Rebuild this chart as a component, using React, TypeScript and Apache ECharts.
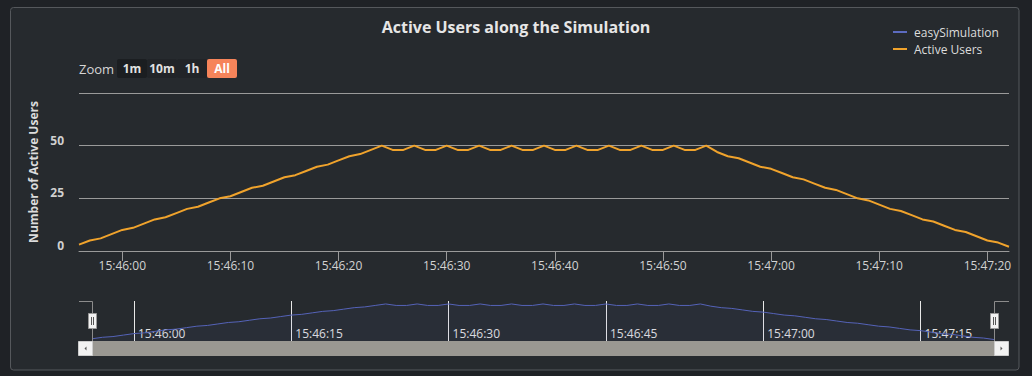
import React, { useEffect, useRef } from "react";
import * as echarts from "echarts";

const FONT = "'Open Sans', 'DejaVu Sans', sans-serif";

// time span: 15:45:56 .. 15:47:22, one point per second
const START_SECONDS = 15 * 3600 + 45 * 60 + 56;
const POINT_COUNT = 87;
const pad = (n: number) => String(n).padStart(2, "0");
const toClock = (s: number) =>
  `${pad(Math.floor(s / 3600))}:${pad(Math.floor((s % 3600) / 60))}:${pad(s % 60)}`;
const categories: string[] = Array.from({ length: POINT_COUNT }, (_, i) => toClock(START_SECONDS + i));

// Active users
const rampUp = [3, 5, 6, 8, 10, 11, 13, 15, 16, 18, 20, 21, 23, 25, 26, 28, 30, 31, 33, 35, 36, 38, 40, 41, 43, 45, 46, 48, 50];
const plateau = [48, 48, 50, 48, 48, 50, 48, 48, 50, 48, 48, 50, 48, 48, 50, 48, 48, 50, 48, 48, 50, 48, 48, 50, 48, 48, 50, 48, 48, 50];
const rampDown = [47, 45, 44, 42, 40, 39, 37, 35, 34, 32, 30, 29, 27, 25, 24, 22, 20, 19, 17, 15, 14, 12, 10, 9, 7, 5, 4, 2];
const activeUsers = [...rampUp, ...plateau, ...rampDown];

const yTicks = [0, 25, 50, 75];
const zoomButtons = ["1m", "10m", "1h", "All"];

const secOf = (v: string) => Number(v.slice(-2));

export default function App() {
  const ref = useRef<HTMLDivElement>(null);
  useEffect(() => {
    if (!ref.current) return;
    const chart = echarts.init(ref.current, undefined, { renderer: "svg" });

    const buttonGraphics: any[] = [];
    zoomButtons.forEach((label, i) => {
      const x = 117 + i * 30;
      const active = label === "All";
      const bg = active ? "#f6845a" : i === 0 ? "#1b1e21" : "#212428";
      buttonGraphics.push({
        type: "rect",
        shape: { x, y: 59, width: 30, height: 19, r: 2 },
        style: { fill: bg },
        z: 5,
      });
      buttonGraphics.push({
        type: "text",
        x: x + 15,
        y: 68.5,
        style: {
          text: label,
          fill: active ? "#ffffff" : "#e2e2e2",
          font: `bold 12px ${FONT}`,
          textAlign: "center",
          textVerticalAlign: "middle",
        },
        z: 6,
      });
    });

    const handle = (x: number) => [
      {
        type: "rect",
        shape: { x: x + 0.5, y: 313.5, width: 8, height: 15 },
        style: { fill: "#f2f2f2", stroke: "#9a9a9a", lineWidth: 1 },
        z: 10,
      },
      {
        type: "line",
        shape: { x1: x + 3.5, y1: 317, x2: x + 3.5, y2: 325 },
        style: { stroke: "#555", lineWidth: 1 },
        z: 11,
      },
      {
        type: "line",
        shape: { x1: x + 5.5, y1: 317, x2: x + 5.5, y2: 325 },
        style: { stroke: "#555", lineWidth: 1 },
        z: 11,
      },
    ];

    const option: any = {
      animation: false,
      backgroundColor: "#1f2226",
      title: {
        text: "Active Users along the Simulation",
        left: "center",
        top: 14,
        textStyle: { color: "#e6e6e6", fontSize: 16, fontWeight: "bold", fontFamily: FONT },
      },
      legend: {
        orient: "vertical",
        left: 893,
        top: 25,
        padding: 0,
        icon: "rect",
        itemWidth: 14,
        itemHeight: 2,
        itemGap: 3,
        textStyle: { color: "#dcdcdc", fontSize: 12, fontFamily: FONT, lineHeight: 14, padding: [0, 0, 0, 2] },
        data: ["easySimulation", "Active Users"],
      },
      grid: [
        { left: 79, right: 23, top: 93, height: 158 },
        { left: 92, right: 38, top: 301, height: 40 },
      ],
      xAxis: [
        {
          type: "category",
          gridIndex: 0,
          data: categories,
          boundaryGap: false,
          axisLine: { lineStyle: { color: "#9a9a9a", width: 1 } },
          axisTick: {
            length: 10,
            interval: (_i: number, v: string) => secOf(v) % 10 === 0,
            lineStyle: { color: "#9a9a9a" },
          },
          axisLabel: {
            interval: (_i: number, v: string) => secOf(v) % 10 === 0,
            color: "#d2d2d2",
            fontSize: 12,
            fontFamily: FONT,
            margin: 8,
          },
          splitLine: { show: false },
        },
        {
          type: "category",
          gridIndex: 1,
          data: categories,
          boundaryGap: false,
          axisLine: { show: false },
          axisTick: { show: false },
          axisLabel: {
            inside: true,
            interval: (_i: number, v: string) => secOf(v) % 15 === 0,
            align: "left",
            padding: [0, 0, 0, 4],
            margin: 2,
            color: "#e2e2e2",
            fontSize: 12,
            fontFamily: FONT,
          },
          splitLine: {
            show: true,
            interval: (_i: number, v: string) => secOf(v) % 15 === 0,
            lineStyle: { color: "#e8e8e8", width: 1 },
          },
        },
      ],
      yAxis: [
        {
          type: "value",
          gridIndex: 0,
          min: yTicks[0],
          max: yTicks[yTicks.length - 1],
          interval: 25,
          name: "Number of Active Users",
          nameLocation: "middle",
          nameGap: 39,
          nameTextStyle: { color: "#dcdcdc", fontWeight: "bold", fontSize: 12, fontFamily: FONT },
          axisLine: { show: false },
          axisTick: { show: false },
          axisLabel: {
            formatter: (v: number) => (v === yTicks[yTicks.length - 1] ? "" : String(v)),
            color: "#d0d0d0",
            fontWeight: "bold",
            fontSize: 12,
            fontFamily: FONT,
            margin: 15,
            verticalAlign: "bottom",
            lineHeight: 11,
          },
          splitLine: { lineStyle: { color: "#9a9a9a", width: 1 } },
        },
        {
          type: "value",
          gridIndex: 1,
          min: 0,
          max: 54,
          show: false,
          splitLine: { show: false },
        },
      ],
      series: [
        {
          name: "Active Users",
          type: "line",
          xAxisIndex: 0,
          yAxisIndex: 0,
          data: activeUsers,
          symbol: "none",
          color: "#f0a32c",
          lineStyle: { color: "#f0a32c", width: 2 },
          z: 3,
        },
        {
          name: "easySimulation",
          type: "line",
          xAxisIndex: 1,
          yAxisIndex: 1,
          data: activeUsers,
          symbol: "none",
          color: "#5c6bc0",
          lineStyle: { color: "#5563b8", width: 1 },
          areaStyle: { color: "rgba(82,97,180,0.10)" },
          z: 3,
        },
      ],
      graphic: [
        {
          type: "rect",
          shape: { x: 10.5, y: 7.5, width: 1008.5, height: 362.5, r: 3 },
          style: { fill: "#262a2e", stroke: "#55585c", lineWidth: 1 },
          z: -10,
        },
        {
          type: "text",
          x: 79,
          y: 69,
          style: {
            text: "Zoom",
            fill: "#d6d6d6",
            font: `13px ${FONT}`,
            textVerticalAlign: "middle",
          },
          z: 5,
        },
        ...buttonGraphics,
        {
          type: "polyline",
          shape: { points: [[79, 301.5], [92.5, 301.5], [92.5, 341]] },
          style: { stroke: "#8c8c8c", lineWidth: 1, fill: "none" },
          z: 9,
        },
        {
          type: "polyline",
          shape: { points: [[994.5, 341], [994.5, 301.5], [1009, 301.5]] },
          style: { stroke: "#8c8c8c", lineWidth: 1, fill: "none" },
          z: 9,
        },
        ...handle(88),
        ...handle(990),
        {
          type: "rect",
          shape: { x: 92, y: 341, width: 903, height: 15 },
          style: { fill: "#9a9892" },
          z: 8,
        },
        {
          type: "rect",
          shape: { x: 78.5, y: 341.5, width: 14, height: 14 },
          style: { fill: "#f2f2f2", stroke: "#cccccc", lineWidth: 1 },
          z: 9,
        },
        {
          type: "polygon",
          shape: { points: [[84.5, 348.5], [86.5, 346.5], [86.5, 350.5]] },
          style: { fill: "#555" },
          z: 10,
        },
        {
          type: "rect",
          shape: { x: 994.5, y: 341.5, width: 14, height: 14 },
          style: { fill: "#f2f2f2", stroke: "#cccccc", lineWidth: 1 },
          z: 9,
        },
        {
          type: "polygon",
          shape: { points: [[1002.5, 348.5], [1000.5, 346.5], [1000.5, 350.5]] },
          style: { fill: "#555" },
          z: 10,
        },
      ],
    };
    chart.setOption(option);
    return () => chart.dispose();
  }, []);
  return (
    <div
      ref={ref}
      style={{ position: "absolute", left: 0, top: 0, width: 1032, height: 376 }}
    />
  );
}
